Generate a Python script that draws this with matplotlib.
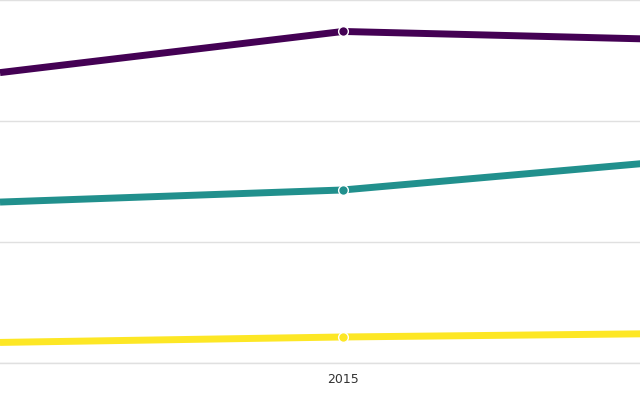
import matplotlib.pyplot as plt

years = [2014, 2015, 2016]
series_a = [2.40, 2.74, 2.67]
series_b = [1.33, 1.43, 1.68]
series_c = [0.17, 0.215, 0.245]
colors = ['#440154', '#21908d', '#fde725']

fig = plt.figure(figsize=(6.4, 4), dpi=100)
ax = fig.add_axes([0, 37 / 400, 1, 363 / 400])

for vals, c in zip([series_a, series_b, series_c], colors):
    ax.plot(years, vals, color=c, linewidth=5, solid_capstyle='butt',
            marker='o', markersize=7, markerfacecolor=c,
            markeredgecolor='white', markeredgewidth=1, markevery=[1],
            zorder=3)

ax.set_xlim(2014, 2014 + 640 / 343)
ax.set_ylim(0, 3)
ax.set_yticks([0, 1, 2, 3])
ax.set_yticklabels([])
ax.set_xticks([2015])
ax.set_xticklabels(['2015'], fontsize=9, color='#333333')
ax.tick_params(length=0, pad=7)
ax.grid(axis='y', color='#e0e0e0', linewidth=1)
ax.set_axisbelow(True)
for s in ax.spines.values():
    s.set_visible(False)
ax.spines['bottom'].set_visible(True)
ax.spines['bottom'].set_color('#e0e0e0')
ax.spines['bottom'].set_linewidth(1)

fig.savefig('out.png', dpi=100)
